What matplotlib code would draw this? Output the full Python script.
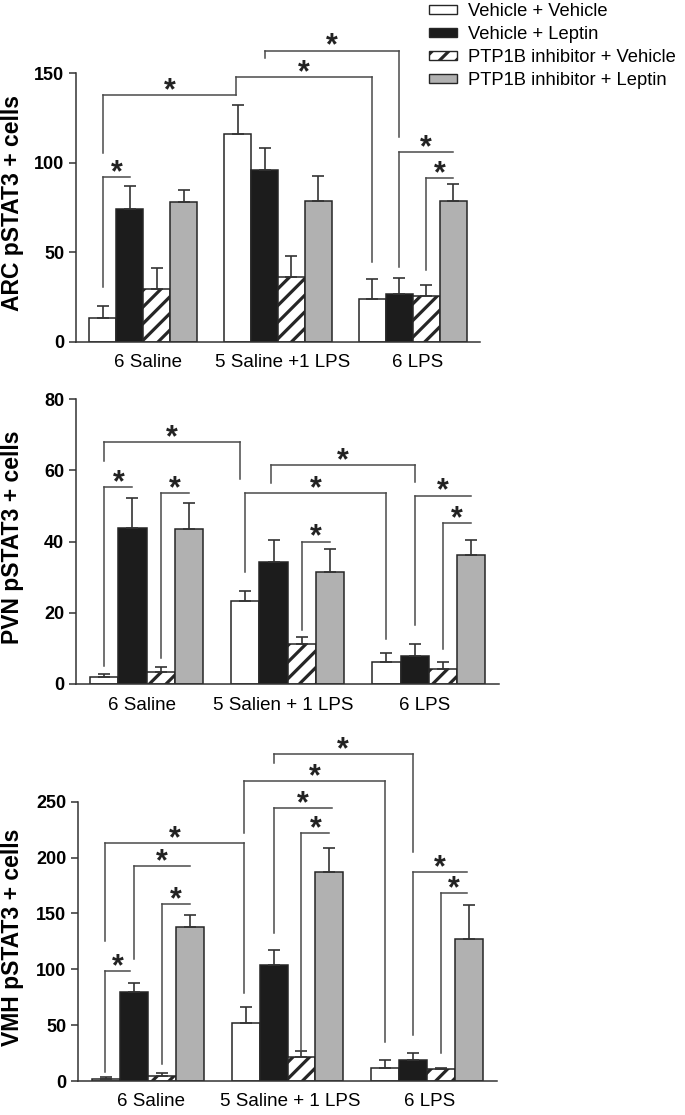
import matplotlib
matplotlib.use('Agg')
import matplotlib.pyplot as plt
from matplotlib.patches import Patch

plt.rcParams['font.family'] = ['Liberation Sans', 'DejaVu Sans']
plt.rcParams['hatch.linewidth'] = 2.3

treatments = ['Vehicle + Vehicle', 'Vehicle + Leptin',
              'PTP1B inhibitor + Vehicle', 'PTP1B inhibitor + Leptin']
fills = ['white', '#1c1c1c', 'white', '#b1b1b1']
hatches = ['', '', '//', '']

# ARC panel
arc_groups = ['6 Saline', '5 Saline +1 LPS', '6 LPS']
arc_mean = [[13.1, 74.1, 29.3, 78.0],
            [116.3, 96.0, 36.3, 78.6],
            [24.0, 26.7, 25.5, 78.6]]
arc_sem = [[6.9, 12.9, 11.9, 6.8],
           [16.2, 12.0, 11.7, 14.2],
           [10.9, 8.7, 6.0, 9.4]]
# significance brackets: x left, x right, top, left leg end, right leg end
arc_sig = [(0.5, 5.45, 137.7, 105.3, None),
           (5.45, 10.5, 148.1, 137.7, 44.7),
           (6.5, 11.5, 162.7, 158.4, 114.6),
           (11.5, 13.5, 105.9, 41.9, None),
           (12.5, 13.5, 91.3, 40.1, None),
           (0.5, 1.5, 92.2, 30.7, None)]

# PVN panel
pvn_groups = ['6 Saline', '5 Salien + 1 LPS', '6 LPS']
pvn_mean = [[2.1, 43.9, 3.5, 43.5],
            [23.4, 34.2, 11.2, 31.4],
            [6.3, 7.9, 4.3, 36.2]]
pvn_sem = [[0.7, 8.2, 1.2, 7.3],
           [2.6, 6.2, 1.9, 6.5],
           [2.4, 3.3, 1.9, 4.2]]
pvn_sig = [(0.5, 5.3, 68.0, 62.6, 57.5),
           (0.5, 1.5, 55.4, 5.1, None),
           (2.5, 3.5, 53.5, 7.2, None),
           (5.5, 10.5, 53.7, 31.5, 12.5),
           (6.4, 11.5, 61.5, 56.3, 56.8),
           (7.5, 8.5, 40.0, 15.2, None),
           (11.5, 13.5, 52.9, 16.6, None),
           (12.5, 13.5, 45.3, 9.7, None)]

# VMH panel
vmh_groups = ['6 Saline', '5 Saline + 1 LPS', '6 LPS']
vmh_mean = [[1.5, 80.0, 4.5, 137.8],
            [51.6, 103.5, 21.5, 187.4],
            [11.6, 18.8, 10.4, 127.4]]
vmh_sem = [[2.1, 8.0, 2.4, 11.1],
           [14.6, 13.5, 5.7, 20.8],
           [7.2, 6.6, 1.5, 29.8]]
vmh_sig = [(0.45, 5.45, 212.7, 125.6, 78.5),
           (1.5, 3.5, 192.7, 109.5, None),
           (2.5, 3.5, 158.1, 14.9, None),
           (0.45, 1.35, 98.7, 8.3, None),
           (5.45, 10.5, 268.8, 222.2, 35.2),
           (6.5, 11.5, 292.4, 284.3, 205.2),
           (6.5, 8.6, 244.6, 132.2, None),
           (7.5, 8.5, 222.2, 27.1, None),
           (11.5, 13.45, 187.3, 41.2, None),
           (12.5, 13.45, 168.0, 25.3, None)]

W, H = 685, 1115
fig = plt.figure(figsize=(W / 100, H / 100), dpi=100)


def add_panel(left, top, width, height):
    return fig.add_axes([left / W, 1 - (top + height) / H, width / W, height / H])


def draw_panel(ax, groups, means, sems, sig, ylabel, ymax, step, label_shift):
    for g in range(len(groups)):
        xs = [g * 5 + k + 0.5 for k in range(4)]
        for k in range(4):
            ax.bar(xs[k], means[g][k], width=1.0, color=fills[k], hatch=hatches[k],
                   edgecolor='#262626', linewidth=1.1, zorder=2)
        ax.errorbar(xs, means[g], yerr=[[0] * 4, sems[g]], fmt='none', ecolor='#333333',
                    elinewidth=1.2, capsize=4.5, capthick=1.2, zorder=3)

    for x1, x2, top, lb, rb in sig:
        kw = dict(color='#4a4a4a', lw=1.1, clip_on=False, zorder=4)
        ax.plot([x1, x2], [top, top], **kw)
        if lb is not None:
            ax.plot([x1, x1], [lb, top], **kw)
        if rb is not None:
            ax.plot([x2, x2], [rb, top], **kw)
        ax.annotate('*', xy=((x1 + x2) / 2, top), xytext=(0, -3), textcoords='offset points',
                    ha='center', va='baseline', fontsize=22, fontweight='bold',
                    color='#222222', annotation_clip=False)

    ax.set_xlim(-0.5, 14.5)
    ax.set_ylim(0, ymax)
    ax.set_yticks(range(0, ymax + 1, step))
    ax.set_xticks([g * 5 + 2 + label_shift for g in range(len(groups))])
    ax.set_xticklabels(groups, fontsize=13.5)
    ax.tick_params(axis='x', length=0, pad=9)
    ax.tick_params(axis='y', length=5, width=1.1, color='#333333', pad=3.5)
    for lab in ax.get_yticklabels():
        lab.set_fontsize(13)
        lab.set_fontweight('bold')
    ax.spines['top'].set_visible(False)
    ax.spines['right'].set_visible(False)
    for s in ['left', 'bottom']:
        ax.spines[s].set_color('#333333')
        ax.spines[s].set_linewidth(1.1)
    ax.set_ylabel(ylabel, fontsize=16.5, fontweight='bold')


ax1 = add_panel(76, 73.3, 404, 268.4)
ax2 = add_panel(76, 399, 423.3, 285)
ax3 = add_panel(78.3, 801.7, 418.4, 279.3)

draw_panel(ax1, arc_groups, arc_mean, arc_sem, arc_sig, 'ARC pSTAT3 + cells', 150, 50, 0.17)
draw_panel(ax2, pvn_groups, pvn_mean, pvn_sem, pvn_sig, 'PVN pSTAT3 + cells', 80, 20, -0.15)
draw_panel(ax3, vmh_groups, vmh_mean, vmh_sem, vmh_sig, 'VMH pSTAT3 + cells', 250, 50, 0.1)

ax1.yaxis.set_label_coords((24 - 76) / 404, 0.515)
ax2.yaxis.set_label_coords((24 - 76) / 423.3, 0.515)
ax3.yaxis.set_label_coords((24 - 78.3) / 418.4, 0.515)

handles = [Patch(facecolor=fills[k], edgecolor='#262626', hatch=hatches[k], linewidth=1.0)
           for k in range(4)]
fig.legend(handles, treatments, loc='upper left', bbox_to_anchor=(429 / W, 1 - 3 / H),
           frameon=False, fontsize=13.2, handlelength=1.53, handleheight=0.38,
           handletextpad=0.6, labelspacing=0.32, borderpad=0, borderaxespad=0)

fig.savefig('out.png', dpi=100)
